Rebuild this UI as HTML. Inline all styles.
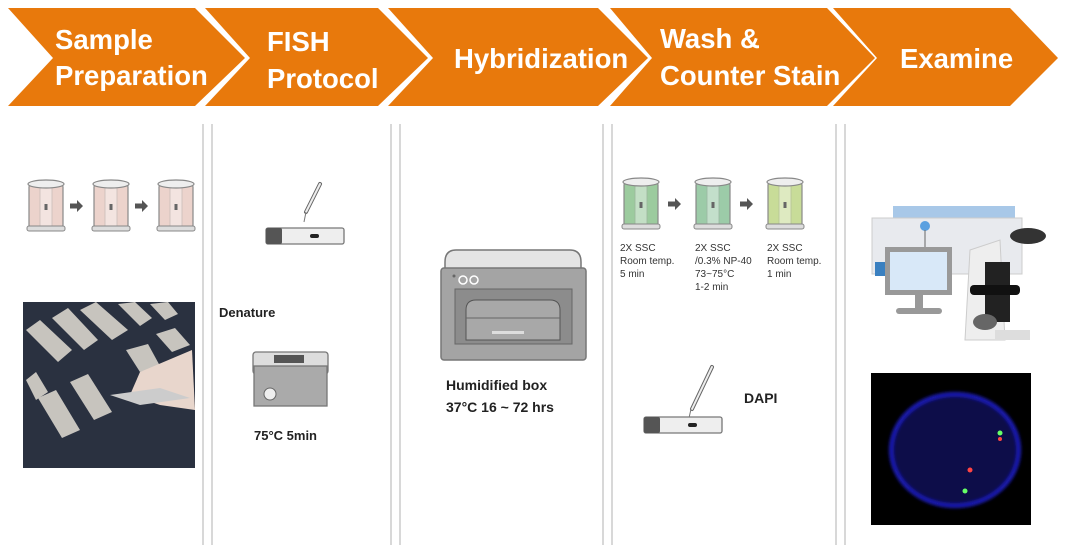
<!DOCTYPE html>
<html><head><meta charset="utf-8"><style>
html,body{margin:0;padding:0;background:#fff;}
svg{display:block;font-family:"Liberation Sans",Arial,sans-serif;}
</style></head><body>
<svg width="1080" height="553" viewBox="0 0 1080 553" xmlns="http://www.w3.org/2000/svg">
<defs>
<g id="jar">
<rect x="0" y="4" width="34" height="44" rx="3" fill="var(--c)" stroke="#888" stroke-width="1.2"/>
<rect x="11" y="8" width="12" height="38" fill="#fff" opacity="0.4" stroke="#999" stroke-width="0.8"/>
<rect x="15.5" y="24" width="3" height="6" fill="#666"/>
<ellipse cx="17" cy="4" rx="18" ry="4" fill="#eee" stroke="#888" stroke-width="1.2"/>
<rect x="-2" y="46" width="38" height="5" rx="2" fill="#ddd" stroke="#888" stroke-width="1"/>
</g>
<g id="arr"><path d="M0 -2.5 H7 V-6 L13 0 L7 6 V2.5 H0 Z" fill="#555"/></g>
<g id="slide">
<rect x="0" y="0" width="78" height="16" rx="2" fill="#eee" stroke="#777" stroke-width="1.3"/>
<rect x="0" y="0" width="16" height="16" rx="2" fill="#555"/>
<rect x="44" y="6" width="9" height="4" rx="2" fill="#222"/>
</g>
<filter id="bl"><feGaussianBlur stdDeviation="1.5"/></filter>
</defs>

<g fill="#E8790C">
<polygon points="8,8 195,8 245,58 195,106 8,106 53,58"/>
<polygon points="205,8 378,8 428,58 378,106 205,106 250,58"/>
<polygon points="388,8 598,8 648,58 598,106 388,106 433,58"/>
<polygon points="610,8 827,8 875,58 827,106 610,106 652,58"/>
<polygon points="833,8 1010,8 1058,58 1010,106 833,106 877,58"/>
</g>
<g fill="#fff" font-weight="bold" font-size="27.5">
<text x="55" y="49">Sample</text>
<text x="55" y="85">Preparation</text>
<text x="267" y="51">FISH</text>
<text x="267" y="88">Protocol</text>
<text x="454" y="68">Hybridization</text>
<text x="660" y="48">Wash &amp;</text>
<text x="660" y="85">Counter Stain</text>
<text x="900" y="68">Examine</text>
</g>

<g stroke="#ccc" stroke-width="1.5">
<line x1="203" y1="124" x2="203" y2="545"/><line x1="212" y1="124" x2="212" y2="545"/>
<line x1="391" y1="124" x2="391" y2="545"/><line x1="400" y1="124" x2="400" y2="545"/>
<line x1="603" y1="124" x2="603" y2="545"/><line x1="612" y1="124" x2="612" y2="545"/>
<line x1="836" y1="124" x2="836" y2="545"/><line x1="845" y1="124" x2="845" y2="545"/>
</g>

<g style="--c:#ecd3cc">
<use href="#jar" x="29" y="180"/><use href="#jar" x="94" y="180"/><use href="#jar" x="159" y="180"/>
</g>
<use href="#arr" x="70" y="206"/><use href="#arr" x="135" y="206"/>

<rect x="23" y="302" width="172" height="166" fill="#2a3140"/>
<g fill="#d8d4cc" opacity="0.9">
<polygon points="26,330 40,320 72,350 58,362"/>
<polygon points="52,318 68,308 98,340 84,350"/>
<polygon points="80,310 96,302 128,330 112,340"/>
<polygon points="118,304 135,302 152,318 140,326"/>
<polygon points="150,304 168,302 178,314 165,320"/>
<polygon points="26,380 36,372 48,392 36,400"/>
<polygon points="70,382 88,374 112,412 94,420"/>
<polygon points="38,398 56,390 80,430 62,438"/>
<polygon points="126,350 148,344 160,366 140,372"/>
<polygon points="156,334 175,328 190,345 172,352"/>
</g>
<polygon points="140,372 192,350 195,410 160,405 130,395" fill="#e8d6cc"/>
<polygon points="110,395 160,388 190,398 140,405" fill="#ccc"/>

<line x1="306" y1="212" x2="320" y2="184" stroke="#666" stroke-width="4" stroke-linecap="round"/>
<line x1="306" y1="212" x2="320" y2="184" stroke="#eee" stroke-width="2" stroke-linecap="round"/>
<line x1="306" y1="212" x2="304" y2="222" stroke="#777" stroke-width="1"/>
<use href="#slide" x="266" y="228"/>
<text x="219" y="317" font-size="13" font-weight="bold" fill="#222">Denature</text>
<rect x="253" y="352" width="75" height="22" rx="3" fill="#ddd" stroke="#777" stroke-width="1.3"/>
<rect x="274" y="355" width="30" height="8" fill="#555"/>
<rect x="254" y="366" width="73" height="40" fill="#aaa" stroke="#777" stroke-width="1.3"/>
<circle cx="270" cy="394" r="6" fill="#eee" stroke="#666"/>
<text x="254" y="440" font-size="13" font-weight="bold" fill="#222">75°C 5min</text>

<path d="M445 262 Q445 250 456 250 H570 Q581 250 581 262 V270 H445 Z" fill="#e4e4e4" stroke="#777" stroke-width="1.5"/>
<rect x="441" y="268" width="145" height="92" rx="3" fill="#a4a4a4" stroke="#777" stroke-width="1.5"/>
<circle cx="454" cy="276" r="1.5" fill="#666"/>
<circle cx="463" cy="280" r="4" fill="none" stroke="#fff" stroke-width="1.5"/>
<circle cx="474" cy="280" r="4" fill="none" stroke="#fff" stroke-width="1.5"/>
<rect x="455" y="289" width="117" height="55" fill="#8c8c8c" stroke="#666"/>
<path d="M466 310 Q466 300 476 300 H550 Q560 300 560 310 V340 H466 Z" fill="#a8a8a8" stroke="#555"/>
<line x1="466" y1="318" x2="560" y2="318" stroke="#666"/>
<rect x="492" y="331" width="32" height="3" fill="#ddd"/>
<text x="446" y="390" font-size="14" font-weight="bold" fill="#222">Humidified box</text>
<text x="446" y="412" font-size="14" font-weight="bold" fill="#222">37°C 16 ~ 72 hrs</text>

<use href="#jar" x="624" y="178" style="--c:#9ccb9e"/>
<use href="#jar" x="696" y="178" style="--c:#9ccba8"/>
<use href="#jar" x="768" y="178" style="--c:#c8dc98"/>
<use href="#arr" x="668" y="204"/><use href="#arr" x="740" y="204"/>
<g font-size="10" fill="#333">
<text x="620" y="251">2X SSC</text><text x="620" y="264">Room temp.</text><text x="620" y="277">5 min</text>
<text x="695" y="251">2X SSC</text><text x="695" y="264">/0.3% NP-40</text><text x="695" y="277">73~75°C</text><text x="695" y="290">1-2 min</text>
<text x="767" y="251">2X SSC</text><text x="767" y="264">Room temp.</text><text x="767" y="277">1 min</text>
</g>
<line x1="692" y1="409" x2="712" y2="367" stroke="#666" stroke-width="4" stroke-linecap="round"/>
<line x1="692" y1="409" x2="712" y2="367" stroke="#eee" stroke-width="2" stroke-linecap="round"/>
<line x1="691" y1="409" x2="689" y2="418" stroke="#777"/>
<use href="#slide" x="644" y="417"/>
<text x="744" y="403" font-size="14" font-weight="bold" fill="#222">DAPI</text>

<rect x="893" y="206" width="122" height="16" fill="#a8c8e8"/>
<rect x="872" y="218" width="150" height="56" fill="#e8eaee" stroke="#ccc"/>
<rect x="875" y="262" width="12" height="14" fill="#3a80c0"/>
<circle cx="925" cy="226" r="5" fill="#5aa0e0"/>
<line x1="925" y1="230" x2="925" y2="248" stroke="#666"/>
<rect x="885" y="247" width="67" height="48" fill="#999"/>
<rect x="890" y="252" width="57" height="38" fill="#d8e8f8"/>
<rect x="915" y="295" width="8" height="14" fill="#999"/>
<rect x="896" y="308" width="46" height="6" rx="3" fill="#999"/>
<polygon points="970,250 1000,240 1005,340 965,340" fill="#eee" stroke="#ccc"/>
<ellipse cx="1028" cy="236" rx="18" ry="8" fill="#333"/>
<rect x="985" y="262" width="25" height="60" fill="#222"/>
<rect x="970" y="285" width="50" height="10" rx="4" fill="#111"/>
<ellipse cx="985" cy="322" rx="12" ry="8" fill="#666"/>
<rect x="995" y="330" width="35" height="10" fill="#ddd"/>

<rect x="871" y="373" width="160" height="152" fill="#000"/>
<ellipse cx="955" cy="450" rx="64" ry="56" fill="#0a0a4a" stroke="#1c1cb8" stroke-width="4" filter="url(#bl)"/>
<circle cx="1000" cy="433" r="2.5" fill="#6f6"/>
<circle cx="1000" cy="439" r="2" fill="#f44"/>
<circle cx="970" cy="470" r="2.5" fill="#f44"/>
<circle cx="965" cy="491" r="2.5" fill="#6f6"/>
</svg>
</body></html>
